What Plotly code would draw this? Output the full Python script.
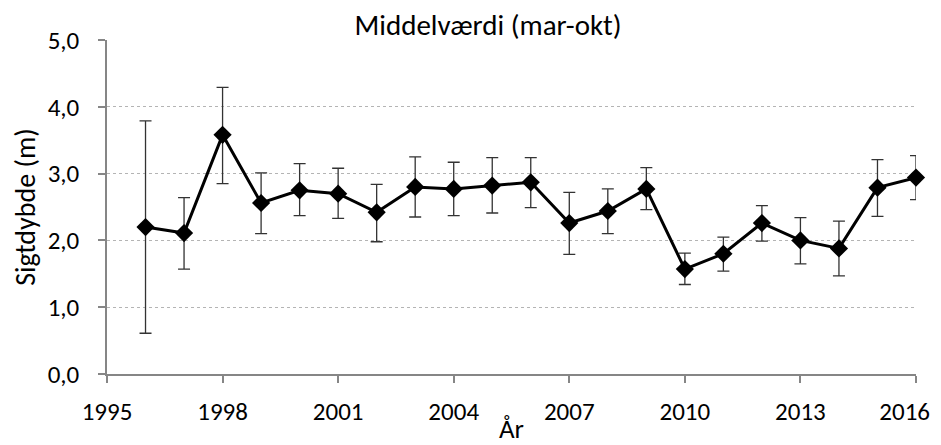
import plotly.graph_objects as go

years = list(range(1996, 2017))
mean_vals = [2.20, 2.11, 3.58, 2.56, 2.75, 2.70, 2.42, 2.80, 2.77, 2.82, 2.87,
             2.26, 2.44, 2.77, 1.57, 1.80, 2.26, 2.00, 1.88, 2.79, 2.94]
upper_vals = [3.79, 2.64, 4.29, 3.01, 3.15, 3.08, 2.84, 3.25, 3.17, 3.24, 3.24,
              2.72, 2.77, 3.09, 1.81, 2.05, 2.52, 2.34, 2.29, 3.21, 3.27]
lower_vals = [0.61, 1.57, 2.85, 2.10, 2.37, 2.33, 1.98, 2.35, 2.37, 2.41, 2.49,
              1.79, 2.10, 2.46, 1.34, 1.54, 1.99, 1.65, 1.47, 2.36, 2.61]

err_plus = [u - m for u, m in zip(upper_vals, mean_vals)]
err_minus = [m - l for m, l in zip(mean_vals, lower_vals)]

x_ticks = [1995, 1998, 2001, 2004, 2007, 2010, 2013, 2016]
x_tick_labels = ["1995", "1998", "2001", "2004", "2007", "2010", "2013", "2016"]
y_ticks = [0, 1, 2, 3, 4, 5]

# the last label is nudged left (as in the original) so it stays inside the window
x_tick_text = x_tick_labels[:-1] + [x_tick_labels[-1] + "\u00a0" * 4]

font_family = "Carlito, Liberation Sans, Arial, sans-serif"

# page body has an 8px margin; the figure is sized to fit the 941x445 window
W, H = 933, 437

fig = go.Figure()
fig.add_trace(go.Scatter(
    x=years, y=mean_vals, mode="lines+markers",
    line=dict(color="black", width=3),
    marker=dict(symbol="diamond", size=14, color="black"),
    error_y=dict(type="data", symmetric=False, array=err_plus, arrayminus=err_minus,
                 color="#333333", thickness=1.3, width=6),
    showlegend=False,
    cliponaxis=False,
))

fig.update_layout(
    width=W, height=H,
    margin=dict(l=99, r=25, t=32, b=71, autoexpand=False),
    paper_bgcolor="white", plot_bgcolor="white",
    separators=",.",
    font=dict(family=font_family, size=25, color="black"),
    title=dict(text="Middelværdi (mar-okt)", x=0.471, xref="paper", xanchor="center",
               y=1 - 17 / H, yref="container", yanchor="middle",
               font=dict(size=29), automargin=False),
    xaxis=dict(range=[1995, 2016], tickvals=x_ticks, ticktext=x_tick_text,
               showgrid=False, automargin=False,
               showline=True, linecolor="#868686", linewidth=1.5,
               ticks="outside", ticklen=7, tickcolor="#868686", tickwidth=1.5,
               zeroline=False, tickfont=dict(size=25), ticklabelstandoff=7,
               ticklabeloverflow="allow",
               title=dict(text="År", standoff=2, font=dict(size=27))),
    yaxis=dict(range=[0, 5], tickvals=y_ticks, tickformat=".1f", automargin=False,
               showgrid=True, gridcolor="#b4b4b4", griddash="dot", gridwidth=1,
               showline=True, linecolor="#868686", linewidth=1.5,
               ticks="outside", ticklen=7, tickcolor="#868686", tickwidth=1.5,
               zeroline=False, tickfont=dict(size=25), ticklabelstandoff=14,
               ticklabeloverflow="allow",
               title=dict(text="Sigtdybde (m)", standoff=10, font=dict(size=28))),
)

fig.write_html("out.html")
